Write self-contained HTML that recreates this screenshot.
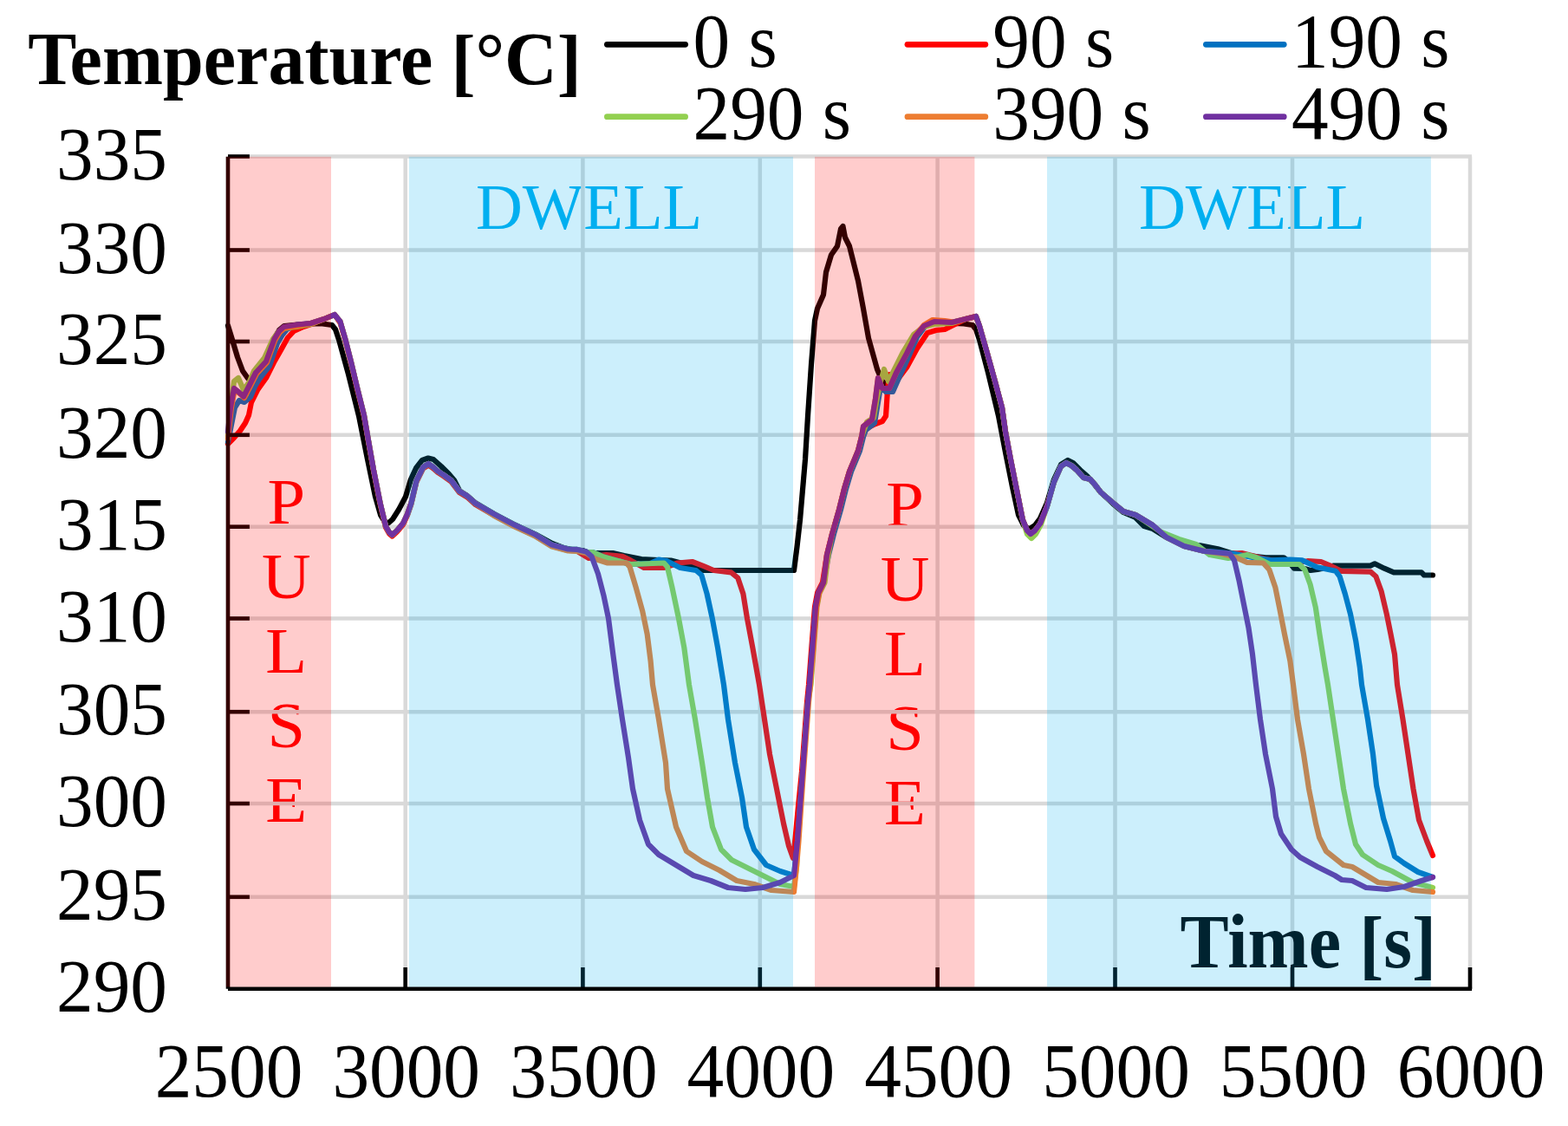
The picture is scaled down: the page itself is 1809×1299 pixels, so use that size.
<!DOCTYPE html>
<html lang="en"><head><meta charset="utf-8"><title>Temperature vs Time</title>
<style>
html,body{margin:0;padding:0;background:#fff;}
body{width:1809px;height:1299px;overflow:hidden;}
svg{display:block;filter:blur(0.7px);}
text{font-family:"Liberation Serif","Times New Roman",serif;}
</style></head><body>
<svg width="1809" height="1299" viewBox="0 0 1809 1299">
<rect width="1809" height="1299" fill="#fff"/>

<g fill="#00B0F0">
<text transform="translate(548.90 263.50)" font-size="74.67">DWELL</text>
<text transform="translate(1313.90 263.50)" font-size="74.67">DWELL</text>
</g>
<g fill="#FF0000">
<text transform="translate(330.20 604.20) scale(1.0500 1.0000)" font-size="74.67" text-anchor="middle">P</text>
<text transform="translate(330.20 690.20) scale(1.0500 1.0000)" font-size="74.67" text-anchor="middle">U</text>
<text transform="translate(330.20 776.20) scale(1.0500 1.0000)" font-size="74.67" text-anchor="middle">L</text>
<text transform="translate(330.20 862.20) scale(1.0500 1.0000)" font-size="74.67" text-anchor="middle">S</text>
<text transform="translate(330.20 948.20) scale(1.0500 1.0000)" font-size="74.67" text-anchor="middle">E</text>
<text transform="translate(1044.00 607.20) scale(1.0500 1.0000)" font-size="74.67" text-anchor="middle">P</text>
<text transform="translate(1044.00 693.20) scale(1.0500 1.0000)" font-size="74.67" text-anchor="middle">U</text>
<text transform="translate(1044.00 779.20) scale(1.0500 1.0000)" font-size="74.67" text-anchor="middle">L</text>
<text transform="translate(1044.00 865.20) scale(1.0500 1.0000)" font-size="74.67" text-anchor="middle">S</text>
<text transform="translate(1044.00 951.20) scale(1.0500 1.0000)" font-size="74.67" text-anchor="middle">E</text>
</g>
<g stroke="#D9D9D9" stroke-width="4.5" fill="none">
<line x1="263" y1="180.5" x2="1698.0" y2="180.5"/>
<line x1="263" y1="288.5" x2="1698.0" y2="288.5"/>
<line x1="263" y1="394.0" x2="1698.0" y2="394.0"/>
<line x1="263" y1="501.8" x2="1698.0" y2="501.8"/>
<line x1="263" y1="607.7" x2="1698.0" y2="607.7"/>
<line x1="263" y1="713.5" x2="1698.0" y2="713.5"/>
<line x1="263" y1="821.2" x2="1698.0" y2="821.2"/>
<line x1="263" y1="927.0" x2="1698.0" y2="927.0"/>
<line x1="263" y1="1034.8" x2="1698.0" y2="1034.8"/>
<line x1="467.7" y1="180.5" x2="467.7" y2="1140.8"/>
<line x1="672.4" y1="180.5" x2="672.4" y2="1140.8"/>
<line x1="876.8" y1="180.5" x2="876.8" y2="1140.8"/>
<line x1="1081.6" y1="180.5" x2="1081.6" y2="1140.8"/>
<line x1="1286.5" y1="180.5" x2="1286.5" y2="1140.8"/>
<line x1="1491.0" y1="180.5" x2="1491.0" y2="1140.8"/>
<line x1="1696.0" y1="180.5" x2="1696.0" y2="1140.8"/>
</g>
<g fill="none" stroke-width="6.2" stroke-linejoin="round" stroke-linecap="round">
<polyline stroke="#000000" points="263.0,375.6 268.0,392.0 274.0,412.0 280.0,428.0 286.0,436.5 292.0,437.0 297.0,430.0 307.0,414.0 316.0,391.0 322.0,381.0 328.0,376.0 343.0,374.5 358.0,373.5 372.0,373.5 383.0,375.0 387.0,380.0 391.0,392.0 402.0,432.0 414.0,480.0 424.0,530.0 433.0,573.0 439.0,594.0 444.0,602.0 448.0,603.5 453.0,599.0 460.0,588.0 468.0,573.0 474.0,553.0 480.0,540.0 487.0,531.0 494.0,528.5 500.0,530.0 509.0,538.0 518.0,547.0 524.0,554.0 530.0,566.0 539.0,572.0 549.0,580.5 570.0,593.0 593.0,605.0 617.0,616.0 637.0,627.0 650.0,632.0 660.0,634.0 672.0,635.0 680.0,638.0 693.0,638.0 707.0,638.0 720.0,641.0 740.0,645.0 760.0,646.0 774.0,646.5 797.0,652.5 811.0,658.0 836.0,658.0 916.0,658.0 919.5,631.0 923.0,600.0 929.0,530.0 932.0,480.0 936.0,420.0 940.0,370.0 943.0,356.0 950.0,340.0 953.0,314.0 959.0,294.0 966.0,284.0 970.0,264.0 972.5,261.0 975.0,274.0 980.0,284.0 990.0,324.0 996.0,356.0 1002.0,390.0 1012.0,426.0 1018.0,440.0 1026.0,446.0 1034.0,428.0 1046.0,406.0 1056.0,386.0 1066.0,376.0 1078.0,373.0 1098.0,373.0 1112.0,373.5 1122.0,375.0 1126.0,380.0 1130.0,392.0 1140.0,430.0 1152.0,480.0 1160.0,522.0 1168.0,562.0 1175.0,594.0 1181.0,606.0 1187.0,610.5 1194.0,606.0 1200.0,598.0 1208.0,580.0 1216.0,553.0 1224.0,536.0 1232.0,531.0 1238.0,534.0 1246.0,542.0 1254.0,549.0 1262.0,558.0 1270.0,568.0 1284.0,581.0 1296.0,591.0 1310.0,597.0 1320.0,607.0 1330.0,610.0 1346.0,620.0 1366.0,629.0 1384.6,629.4 1405.0,633.3 1420.0,638.0 1440.0,641.0 1460.5,643.3 1481.0,643.3 1487.0,648.0 1493.0,655.7 1505.0,656.0 1512.0,658.0 1520.0,657.0 1530.0,655.0 1538.0,652.6 1581.0,652.6 1586.0,650.3 1597.0,655.7 1608.0,660.4 1640.0,660.4 1643.0,663.5 1653.0,663.5"/>
<polyline stroke="#FF0000" points="263.0,512.0 270.0,505.0 277.0,497.0 283.0,488.0 287.0,479.0 290.0,464.0 297.0,450.0 307.0,436.0 316.0,418.0 324.0,404.0 332.0,389.5 339.0,382.0 350.0,377.0 362.0,373.0 374.0,368.0 386.0,363.0 392.5,372.5 398.0,391.5 405.0,419.0 412.0,448.5 420.0,480.5 425.0,509.5 431.0,543.5 438.7,582.1 445.0,608.5 449.0,615.5 452.6,618.5 458.0,613.5 465.0,605.3 470.0,594.5 474.3,582.1 480.5,555.8 488.2,540.3 494.4,536.5 500.0,540.5 505.0,545.0 512.0,549.5 520.7,555.8 530.0,568.2 539.0,573.5 548.6,582.1 570.0,594.5 593.5,606.9 616.7,617.7 636.8,630.1 655.4,635.0 665.0,635.3 679.4,644.0 690.0,641.0 699.5,640.0 718.0,641.8 727.4,646.4 743.0,655.0 766.0,655.0 775.0,652.0 781.6,649.5 798.6,648.0 812.5,653.4 823.4,658.0 843.5,660.4 851.2,666.6 857.4,685.0 862.0,713.5 868.3,747.0 876.0,790.0 882.0,830.0 888.0,870.0 896.0,910.0 904.0,950.0 910.0,976.0 915.0,990.0 918.0,962.0 921.0,930.0 925.0,890.0 931.0,810.0 933.0,790.0 937.0,738.0 940.0,700.0 943.0,684.0 949.0,672.0 954.0,640.0 960.0,616.0 968.0,588.0 974.0,564.0 980.0,544.0 990.0,520.0 994.0,504.0 1000.0,494.0 1010.0,489.0 1018.0,486.0 1022.0,480.0 1024.0,450.0 1026.0,432.0 1034.0,440.0 1046.0,424.0 1058.0,402.0 1070.0,384.0 1080.0,381.0 1090.0,380.0 1104.0,373.0 1114.0,368.0 1126.0,365.0 1130.0,376.0 1138.0,404.0 1148.0,440.0 1156.0,470.0 1160.0,498.0 1166.0,530.0 1174.0,570.0 1180.0,600.0 1185.0,612.0 1189.0,616.0 1194.0,612.0 1200.0,604.0 1208.0,584.0 1216.0,556.0 1224.0,538.0 1230.0,534.0 1236.0,537.0 1242.0,542.0 1250.0,551.0 1258.0,553.0 1264.0,560.0 1270.0,568.0 1284.0,580.0 1296.0,590.0 1310.0,594.0 1330.0,606.0 1346.0,620.0 1366.0,630.0 1390.0,636.0 1410.0,639.0 1432.6,638.0 1460.0,645.0 1490.0,650.0 1508.5,647.2 1524.0,648.0 1534.8,652.6 1547.2,658.8 1581.2,659.6 1587.4,665.0 1593.6,682.0 1599.8,708.4 1604.5,731.6 1609.0,754.8 1612.0,790.0 1618.5,830.0 1624.5,870.0 1630.5,910.0 1637.0,946.0 1646.0,970.0 1653.0,987.0"/>
<polyline stroke="#0070C0" points="263.0,510.0 267.0,490.0 271.0,470.0 276.0,462.0 282.0,464.0 289.0,458.0 294.0,446.0 300.0,436.0 311.0,422.0 320.0,396.0 326.0,386.0 331.0,380.0 343.0,374.5 358.5,373.0 374.0,368.0 386.0,363.0 392.5,371.0 398.0,390.0 405.0,417.5 412.0,447.0 420.0,479.0 425.0,508.0 431.0,542.0 438.7,580.6 445.0,607.0 449.0,614.0 452.6,617.0 458.0,612.0 465.0,603.8 470.0,593.0 474.3,580.6 480.5,554.3 488.2,538.8 494.4,535.0 500.0,539.0 505.0,543.5 512.0,548.0 520.7,554.3 530.0,566.7 539.0,572.0 548.6,580.6 570.0,593.0 593.5,605.4 616.7,616.2 636.8,628.6 655.4,633.5 665.0,633.8 676.0,637.0 684.0,637.0 696.4,642.6 727.4,651.0 750.0,650.0 760.0,645.5 769.0,647.0 784.7,655.0 803.0,658.0 809.4,663.5 815.6,685.0 821.8,713.5 828.0,747.0 835.0,790.0 840.0,830.0 848.0,880.0 856.0,920.0 861.0,954.0 870.0,980.0 884.0,998.0 900.0,1005.0 916.0,1010.0 920.0,970.0 926.0,890.0 932.0,810.0 934.0,790.0 938.0,738.0 941.0,700.0 944.0,684.0 950.0,672.0 956.0,640.0 962.0,616.0 970.0,588.0 976.0,564.0 982.0,544.0 992.0,520.0 996.0,504.0 999.0,496.0 1009.0,488.0 1013.0,464.0 1016.0,446.0 1022.0,452.0 1030.0,452.0 1038.0,434.0 1049.0,410.0 1058.0,389.0 1067.0,377.0 1078.0,372.0 1098.0,372.0 1114.0,368.0 1126.0,365.0 1130.0,376.0 1138.0,404.0 1148.0,440.0 1156.0,470.0 1160.0,498.0 1166.0,530.0 1174.0,570.0 1180.0,600.0 1185.0,612.0 1189.0,616.0 1194.0,612.0 1200.0,604.0 1208.0,584.0 1216.0,556.0 1224.0,538.0 1230.0,534.0 1236.0,537.0 1242.0,542.0 1250.0,551.0 1258.0,553.0 1264.0,560.0 1270.0,568.0 1284.0,580.0 1296.0,590.0 1310.0,594.0 1330.0,606.0 1346.0,620.0 1366.0,630.0 1390.0,636.0 1395.5,636.0 1421.8,638.5 1445.0,643.0 1466.7,646.4 1488.4,645.7 1502.3,646.4 1519.3,654.2 1541.0,658.8 1545.6,665.0 1551.8,685.0 1558.0,708.4 1564.2,739.3 1568.9,770.3 1571.0,790.0 1578.0,830.0 1584.0,870.0 1588.0,906.0 1596.0,944.0 1604.0,970.0 1609.0,988.0 1620.0,996.0 1636.0,1006.0 1653.0,1012.0"/>
<polyline stroke="#92D050" points="263.0,503.0 266.0,470.0 270.0,440.0 275.0,436.0 281.0,450.0 288.0,440.0 293.0,428.0 305.0,413.0 315.0,391.0 321.0,383.0 327.0,379.0 343.0,377.0 358.5,374.0 374.0,368.0 386.0,363.0 392.5,371.0 398.0,390.0 405.0,417.5 412.0,447.0 420.0,479.0 425.0,508.0 431.0,542.0 438.7,580.6 445.0,607.0 449.0,614.0 452.6,617.0 458.0,612.0 465.0,603.8 470.0,593.0 474.3,580.6 480.5,554.3 488.2,538.8 494.4,535.0 500.0,539.0 505.0,543.5 512.0,548.0 520.7,554.3 530.0,566.7 539.0,572.0 548.6,580.6 570.0,593.0 593.5,605.4 616.7,616.2 636.8,628.6 655.4,633.5 665.0,633.8 676.0,637.0 684.0,637.0 696.4,642.6 727.4,651.0 766.0,649.5 770.0,654.0 775.4,677.4 783.0,713.5 789.3,747.0 795.0,790.0 802.0,830.0 810.0,880.0 816.0,920.0 822.0,954.0 832.0,980.0 844.0,992.0 860.0,1000.0 880.0,1010.0 900.0,1020.0 916.0,1023.0 919.0,1000.0 920.5,970.0 926.0,890.0 932.0,810.0 935.5,790.0 939.5,738.0 942.5,700.0 945.5,684.0 951.5,672.0 955.5,640.0 960.0,616.0 968.0,588.0 974.0,564.0 980.0,544.0 990.0,520.0 994.0,504.0 1000.0,487.0 1008.0,482.0 1012.0,458.0 1016.0,440.0 1020.0,426.0 1025.0,440.0 1031.0,428.0 1042.0,406.0 1054.0,386.0 1066.0,377.0 1078.0,374.0 1098.0,373.0 1114.0,368.0 1126.0,365.0 1130.0,376.0 1138.0,404.0 1148.0,440.0 1156.0,470.0 1160.0,498.0 1166.0,530.0 1174.0,570.0 1180.0,600.0 1185.0,616.0 1190.0,621.0 1195.0,616.0 1201.0,605.0 1208.0,584.0 1216.0,556.0 1224.0,538.0 1230.0,534.0 1236.0,537.0 1242.0,542.0 1250.0,551.0 1258.0,553.0 1264.0,560.0 1270.0,568.0 1284.0,580.0 1296.0,590.0 1310.0,594.0 1340.0,614.0 1360.0,622.0 1380.0,628.0 1395.5,640.0 1417.0,644.0 1430.0,642.0 1438.8,640.0 1449.7,643.3 1465.0,651.0 1499.0,651.0 1505.4,657.3 1511.6,674.3 1517.8,700.6 1522.4,731.6 1528.6,770.3 1532.0,790.0 1538.0,830.0 1544.0,870.0 1550.0,910.0 1558.0,950.0 1564.0,974.0 1572.0,986.0 1590.0,998.0 1606.0,1005.0 1630.0,1018.0 1653.0,1024.0"/>
<polyline stroke="#ED7D31" points="263.0,506.0 266.8,471.5 270.8,449.5 275.8,453.5 281.8,459.0 288.8,445.5 295.8,431.5 307.8,418.5 317.3,392.5 322.8,383.5 328.3,378.5 343.8,376.0 358.5,373.0 374.0,368.0 386.0,363.0 392.5,371.0 398.0,390.0 405.0,417.5 412.0,447.0 420.0,479.0 425.0,508.0 431.0,542.0 438.7,580.6 445.0,607.0 449.0,614.0 452.6,617.0 458.0,612.0 465.0,603.8 470.0,593.0 474.3,580.6 480.5,554.3 488.2,538.8 494.4,535.0 500.0,539.0 505.0,543.5 512.0,548.0 520.7,554.3 530.0,566.7 539.0,572.0 548.6,580.6 570.0,595.0 593.5,607.4 616.7,618.2 636.8,630.6 655.4,635.5 665.0,635.8 676.0,638.0 687.0,645.0 701.0,649.5 722.8,649.5 726.6,654.0 733.6,677.4 741.3,705.3 746.7,731.6 750.6,762.5 753.0,790.0 760.0,830.0 768.0,880.0 770.0,910.0 780.0,954.0 792.0,982.0 810.0,994.0 830.0,1004.0 850.0,1016.0 870.0,1020.0 890.0,1027.0 916.0,1029.0 919.0,1000.0 921.5,970.0 927.0,890.0 933.0,810.0 935.0,790.0 939.0,738.0 942.0,700.0 945.0,684.0 950.0,672.0 954.0,640.0 960.0,616.0 968.0,588.0 974.0,564.0 980.0,544.0 990.0,520.0 994.0,504.0 996.0,492.0 1006.0,484.0 1010.0,460.0 1013.0,436.0 1018.0,448.0 1026.0,448.0 1034.0,430.0 1046.0,408.0 1056.0,387.5 1066.0,375.0 1076.0,369.0 1090.0,370.0 1100.0,371.5 1114.0,368.0 1126.0,365.0 1130.0,376.0 1138.0,404.0 1148.0,440.0 1156.0,470.0 1160.0,498.0 1166.0,530.0 1174.0,570.0 1180.0,600.0 1185.0,612.0 1189.0,616.0 1194.0,612.0 1200.0,604.0 1208.0,584.0 1216.0,556.0 1224.0,538.0 1230.0,534.0 1236.0,537.0 1242.0,542.0 1250.0,551.0 1258.0,553.0 1264.0,560.0 1270.0,568.0 1284.0,580.0 1296.0,590.0 1310.0,594.0 1330.0,606.0 1346.0,620.0 1366.0,630.0 1390.0,636.0 1410.0,639.0 1426.4,643.3 1438.8,648.8 1457.4,649.5 1464.4,657.3 1471.3,677.4 1476.0,700.6 1482.0,731.6 1488.4,762.5 1492.0,790.0 1497.0,830.0 1504.0,870.0 1510.0,910.0 1518.0,950.0 1522.0,966.0 1530.0,982.0 1550.0,998.0 1560.0,1000.0 1580.0,1012.0 1590.0,1018.0 1610.0,1020.0 1630.0,1027.0 1653.0,1029.0"/>
<polyline stroke="#7030A0" points="263.0,498.0 266.0,470.0 270.0,448.0 275.0,452.0 281.0,457.5 288.0,444.0 295.0,430.0 307.0,417.0 316.5,391.0 322.0,382.0 327.5,377.0 343.0,374.5 358.5,373.0 374.0,368.0 386.0,363.0 392.5,371.0 398.0,390.0 405.0,417.5 412.0,447.0 420.0,479.0 425.0,508.0 431.0,542.0 438.7,580.6 445.0,607.0 449.0,614.0 452.6,617.0 458.0,612.0 465.0,603.8 470.0,593.0 474.3,580.6 480.5,554.3 488.2,538.8 494.4,535.0 500.0,539.0 505.0,543.5 512.0,548.0 520.7,554.3 530.0,566.7 539.0,572.0 548.6,580.6 570.0,593.0 593.5,605.4 616.7,616.2 636.8,628.6 655.4,633.5 665.0,633.8 676.3,636.4 682.5,641.8 690.0,662.0 696.4,686.7 702.0,713.5 707.3,754.8 712.0,790.0 718.0,830.0 725.0,874.0 730.0,910.0 738.0,946.0 748.0,974.0 760.0,986.0 780.0,998.0 800.0,1010.0 820.0,1016.0 840.0,1024.0 860.0,1026.0 880.0,1024.0 900.0,1018.0 916.0,1010.0 920.0,970.0 926.0,890.0 932.0,810.0 934.0,790.0 938.0,738.0 941.0,700.0 944.0,684.0 950.0,672.0 954.0,640.0 960.0,616.0 968.0,588.0 974.0,564.0 980.0,544.0 990.0,520.0 994.0,504.0 996.0,492.0 1006.0,484.0 1010.0,460.0 1013.0,436.0 1018.0,448.0 1026.0,448.0 1034.0,430.0 1046.0,408.0 1056.0,388.0 1066.0,376.0 1078.0,371.0 1098.0,372.0 1114.0,368.0 1126.0,365.0 1130.0,376.0 1138.0,404.0 1148.0,440.0 1156.0,470.0 1160.0,498.0 1166.0,530.0 1174.0,570.0 1180.0,600.0 1185.0,612.0 1189.0,616.0 1194.0,612.0 1200.0,604.0 1208.0,584.0 1216.0,556.0 1224.0,538.0 1230.0,534.0 1236.0,537.0 1242.0,542.0 1250.0,551.0 1258.0,553.0 1264.0,560.0 1270.0,568.0 1284.0,580.0 1296.0,590.0 1310.0,594.0 1330.0,606.0 1346.0,620.0 1366.0,630.0 1390.0,636.0 1418.7,638.7 1424.0,646.4 1429.5,669.7 1435.7,700.6 1440.4,723.8 1445.0,754.8 1449.0,790.0 1454.0,830.0 1460.0,870.0 1468.0,910.0 1472.0,942.0 1478.0,962.0 1490.0,980.0 1500.0,989.0 1520.0,1000.0 1540.0,1010.0 1548.0,1015.0 1560.0,1016.0 1576.0,1024.0 1600.0,1026.0 1620.0,1023.0 1640.0,1016.0 1653.0,1012.0"/>
</g>
<g stroke="#000" stroke-width="4.6" fill="none">
<line x1="263" y1="180.8" x2="263" y2="1140.8"/>
<line x1="263" y1="1140.8" x2="1698.1" y2="1140.8"/>
<line x1="263" y1="180.5" x2="287.9" y2="180.5"/>
<line x1="263" y1="288.5" x2="287.9" y2="288.5"/>
<line x1="263" y1="394.0" x2="287.9" y2="394.0"/>
<line x1="263" y1="501.8" x2="287.9" y2="501.8"/>
<line x1="263" y1="607.7" x2="287.9" y2="607.7"/>
<line x1="263" y1="713.5" x2="287.9" y2="713.5"/>
<line x1="263" y1="821.2" x2="287.9" y2="821.2"/>
<line x1="263" y1="927.0" x2="287.9" y2="927.0"/>
<line x1="263" y1="1034.8" x2="287.9" y2="1034.8"/>
<line x1="467.7" y1="1140.8" x2="467.7" y2="1116"/>
<line x1="672.4" y1="1140.8" x2="672.4" y2="1116"/>
<line x1="876.8" y1="1140.8" x2="876.8" y2="1116"/>
<line x1="1081.6" y1="1140.8" x2="1081.6" y2="1116"/>
<line x1="1286.5" y1="1140.8" x2="1286.5" y2="1116"/>
<line x1="1491.0" y1="1140.8" x2="1491.0" y2="1116"/>
<line x1="1696.0" y1="1140.8" x2="1696.0" y2="1116"/>
</g>
<g fill="#000">
<text transform="translate(193.00 206.70) scale(1.0000 1.0250)" font-size="85.33" text-anchor="end">335</text>
<text transform="translate(193.00 314.70) scale(1.0000 1.0250)" font-size="85.33" text-anchor="end">330</text>
<text transform="translate(193.00 420.20) scale(1.0000 1.0250)" font-size="85.33" text-anchor="end">325</text>
<text transform="translate(193.00 528.00) scale(1.0000 1.0250)" font-size="85.33" text-anchor="end">320</text>
<text transform="translate(193.00 633.90) scale(1.0000 1.0250)" font-size="85.33" text-anchor="end">315</text>
<text transform="translate(193.00 739.70) scale(1.0000 1.0250)" font-size="85.33" text-anchor="end">310</text>
<text transform="translate(193.00 847.40) scale(1.0000 1.0250)" font-size="85.33" text-anchor="end">305</text>
<text transform="translate(193.00 953.20) scale(1.0000 1.0250)" font-size="85.33" text-anchor="end">300</text>
<text transform="translate(193.00 1061.00) scale(1.0000 1.0250)" font-size="85.33" text-anchor="end">295</text>
<text transform="translate(193.00 1167.00) scale(1.0000 1.0250)" font-size="85.33" text-anchor="end">290</text>
<text transform="translate(264.00 1264.80) scale(1.0000 1.0400)" font-size="85.33" text-anchor="middle">2500</text>
<text transform="translate(468.70 1264.80) scale(1.0000 1.0400)" font-size="85.33" text-anchor="middle">3000</text>
<text transform="translate(673.40 1264.80) scale(1.0000 1.0400)" font-size="85.33" text-anchor="middle">3500</text>
<text transform="translate(877.80 1264.80) scale(1.0000 1.0400)" font-size="85.33" text-anchor="middle">4000</text>
<text transform="translate(1082.60 1264.80) scale(1.0000 1.0400)" font-size="85.33" text-anchor="middle">4500</text>
<text transform="translate(1287.50 1264.80) scale(1.0000 1.0400)" font-size="85.33" text-anchor="middle">5000</text>
<text transform="translate(1492.00 1264.80) scale(1.0000 1.0400)" font-size="85.33" text-anchor="middle">5500</text>
<text transform="translate(1697.00 1264.80) scale(1.0000 1.0400)" font-size="85.33" text-anchor="middle">6000</text>
<text transform="translate(32.20 96.70) scale(0.9858 1.0200)" font-size="85.33" font-weight="bold">Temperature <tspan dy="3">[</tspan><tspan dy="-3">°C</tspan><tspan dy="3">]</tspan></text>
<text transform="translate(1361.60 1115.60) scale(0.9866 1.0450)" font-size="85.33" font-weight="bold">Time <tspan dy="3">[</tspan><tspan dy="-3">s</tspan><tspan dy="3">]</tspan></text>
</g>
<g fill="#000">
<line x1="700.4" y1="51.3" x2="790.6" y2="51.3" stroke="#000000" stroke-width="6.8" stroke-linecap="round"/>
<text transform="translate(799.50 77.30) scale(1.0000 1.0400)" font-size="85.33">0 s</text>
<line x1="1047.0" y1="51.3" x2="1136.8" y2="51.3" stroke="#FF0000" stroke-width="6.8" stroke-linecap="round"/>
<text transform="translate(1145.30 77.30) scale(1.0000 1.0400)" font-size="85.33">90 s</text>
<line x1="1391.4" y1="51.3" x2="1481.2" y2="51.3" stroke="#0070C0" stroke-width="6.8" stroke-linecap="round"/>
<text transform="translate(1490.00 77.30) scale(1.0000 1.0400)" font-size="85.33">190 s</text>
<line x1="700.4" y1="134.7" x2="790.6" y2="134.7" stroke="#92D050" stroke-width="6.8" stroke-linecap="round"/>
<text transform="translate(799.50 160.30) scale(1.0000 1.0400)" font-size="85.33">290 s</text>
<line x1="1047.0" y1="134.7" x2="1136.8" y2="134.7" stroke="#ED7D31" stroke-width="6.8" stroke-linecap="round"/>
<text transform="translate(1145.30 160.30) scale(1.0000 1.0400)" font-size="85.33">390 s</text>
<line x1="1391.4" y1="134.7" x2="1481.2" y2="134.7" stroke="#7030A0" stroke-width="6.8" stroke-linecap="round"/>
<text transform="translate(1490.00 160.30) scale(1.0000 1.0400)" font-size="85.33">490 s</text>
</g>
<g fill-opacity="0.2">
<rect x="260.8" y="180.8" width="121.2" height="957.7" fill="#FF0000"/>
<rect x="940" y="180.8" width="184.4" height="957.7" fill="#FF0000"/>
<rect x="471.8" y="180.8" width="443.2" height="957.7" fill="#00B0F0"/>
<rect x="1208" y="180.8" width="442.9" height="957.7" fill="#00B0F0"/>
</g>
</svg></body></html>
